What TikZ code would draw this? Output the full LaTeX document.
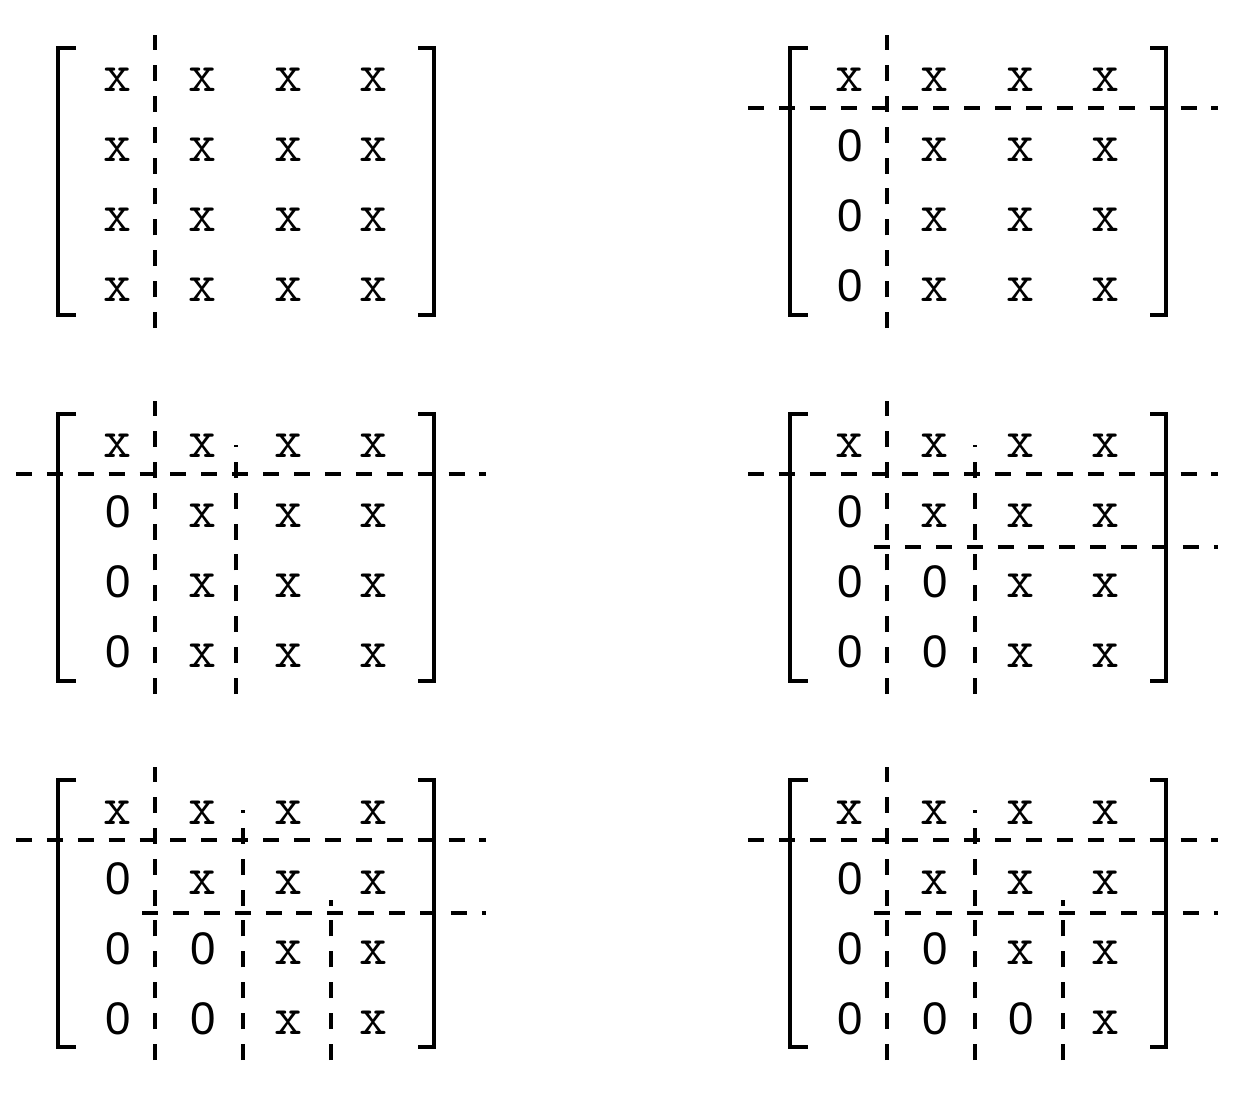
\documentclass[tikz,border=0pt]{standalone}
\usepackage{fontspec}
\usepackage{tikz}
\newfontfamily\zerofont{Liberation Sans}
\newcommand{\ex}{\ttfamily\fontsize{31}{31}\selectfont x}
\newcommand{\nil}{\zerofont\fontsize{26}{26}\selectfont 0}
\tikzset{ent/.style={anchor=base,inner sep=0pt},
  brk/.style={line width=0.07cm,line join=miter},
  cut/.style={line width=0.062cm,dash pattern=on 0.32cm off 0.298cm}}

\begin{document}
\begin{tikzpicture}[x=0.02cm,y=-0.02cm]
    \useasboundingbox (0,0) rectangle (1258,1102);

    % step 0
    \begin{scope}
    \draw [brk] (76,48) -- (58,48) -- (58,315) -- (76,315);
    \draw [brk] (418,48) -- (434,48) -- (434,315) -- (418,315);
    \foreach \r/\ea/\eb/\ec/\ed in {1/\ex/\ex/\ex/\ex,2/\ex/\ex/\ex/\ex,3/\ex/\ex/\ex/\ex,4/\ex/\ex/\ex/\ex}{
      \node[ent] (a-\r-1) at (118,21+70*\r) {\ea};
      \node[ent] (a-\r-2) at (203,21+70*\r) {\eb};
      \node[ent] (a-\r-3) at (289,21+70*\r) {\ec};
      \node[ent] (a-\r-4) at (374,21+70*\r) {\ed};
    }
    \draw [cut] (155,328) -- (155,35);
    \end{scope}

    % step 1
    \begin{scope}[shift={(732,0)}]
    \draw [brk] (76,48) -- (58,48) -- (58,315) -- (76,315);
    \draw [brk] (418,48) -- (434,48) -- (434,315) -- (418,315);
    \foreach \r/\ea/\eb/\ec/\ed in {1/\ex/\ex/\ex/\ex,2/\nil/\ex/\ex/\ex,3/\nil/\ex/\ex/\ex,4/\nil/\ex/\ex/\ex}{
      \node[ent] (b-\r-1) at (118,21+70*\r) {\ea};
      \node[ent] (b-\r-2) at (203,21+70*\r) {\eb};
      \node[ent] (b-\r-3) at (289,21+70*\r) {\ec};
      \node[ent] (b-\r-4) at (374,21+70*\r) {\ed};
    }
    \draw [cut] (155,328) -- (155,35);
    \draw [cut] (16,108) -- (486,108);
    \end{scope}

    % step 2
    \begin{scope}[shift={(0,366)}]
    \draw [brk] (76,48) -- (58,48) -- (58,315) -- (76,315);
    \draw [brk] (418,48) -- (434,48) -- (434,315) -- (418,315);
    \foreach \r/\ea/\eb/\ec/\ed in {1/\ex/\ex/\ex/\ex,2/\nil/\ex/\ex/\ex,3/\nil/\ex/\ex/\ex,4/\nil/\ex/\ex/\ex}{
      \node[ent] (c-\r-1) at (118,21+70*\r) {\ea};
      \node[ent] (c-\r-2) at (203,21+70*\r) {\eb};
      \node[ent] (c-\r-3) at (289,21+70*\r) {\ec};
      \node[ent] (c-\r-4) at (374,21+70*\r) {\ed};
    }
    \draw [cut] (155,328) -- (155,35);
    \draw [cut] (16,108) -- (486,108);
    \draw [cut] (236,328) -- (236,79);
    \end{scope}

    % step 3
    \begin{scope}[shift={(732,366)}]
    \draw [brk] (76,48) -- (58,48) -- (58,315) -- (76,315);
    \draw [brk] (418,48) -- (434,48) -- (434,315) -- (418,315);
    \foreach \r/\ea/\eb/\ec/\ed in {1/\ex/\ex/\ex/\ex,2/\nil/\ex/\ex/\ex,3/\nil/\nil/\ex/\ex,4/\nil/\nil/\ex/\ex}{
      \node[ent] (d-\r-1) at (118,21+70*\r) {\ea};
      \node[ent] (d-\r-2) at (203,21+70*\r) {\eb};
      \node[ent] (d-\r-3) at (289,21+70*\r) {\ec};
      \node[ent] (d-\r-4) at (374,21+70*\r) {\ed};
    }
    \draw [cut] (155,328) -- (155,35);
    \draw [cut] (16,108) -- (486,108);
    \draw [cut] (243,328) -- (243,79);
    \draw [cut] (142,181) -- (486,181);
    \end{scope}

    % step 4
    \begin{scope}[shift={(0,733)}]
    \draw [brk] (76,47) -- (58,47) -- (58,314) -- (76,314);
    \draw [brk] (418,47) -- (434,47) -- (434,314) -- (418,314);
    \foreach \r/\ea/\eb/\ec/\ed in {1/\ex/\ex/\ex/\ex,2/\nil/\ex/\ex/\ex,3/\nil/\nil/\ex/\ex,4/\nil/\nil/\ex/\ex}{
      \node[ent] (e-\r-1) at (118,21+70*\r) {\ea};
      \node[ent] (e-\r-2) at (203,21+70*\r) {\eb};
      \node[ent] (e-\r-3) at (289,21+70*\r) {\ec};
      \node[ent] (e-\r-4) at (374,21+70*\r) {\ed};
    }
    \draw [cut] (155,327) -- (155,34);
    \draw [cut] (16,107) -- (486,107);
    \draw [cut] (243,327) -- (243,77);
    \draw [cut] (142,180) -- (486,180);
    \draw [cut] (331,327) -- (331,167);
    \end{scope}

    % step 5
    \begin{scope}[shift={(732,733)}]
    \draw [brk] (76,47) -- (58,47) -- (58,314) -- (76,314);
    \draw [brk] (418,47) -- (434,47) -- (434,314) -- (418,314);
    \foreach \r/\ea/\eb/\ec/\ed in {1/\ex/\ex/\ex/\ex,2/\nil/\ex/\ex/\ex,3/\nil/\nil/\ex/\ex,4/\nil/\nil/\nil/\ex}{
      \node[ent] (f-\r-1) at (118,21+70*\r) {\ea};
      \node[ent] (f-\r-2) at (203,21+70*\r) {\eb};
      \node[ent] (f-\r-3) at (289,21+70*\r) {\ec};
      \node[ent] (f-\r-4) at (374,21+70*\r) {\ed};
    }
    \draw [cut] (155,327) -- (155,34);
    \draw [cut] (16,107) -- (486,107);
    \draw [cut] (243,327) -- (243,77);
    \draw [cut] (142,180) -- (486,180);
    \draw [cut] (331,327) -- (331,167);
    \end{scope}
\end{tikzpicture}
\end{document}
